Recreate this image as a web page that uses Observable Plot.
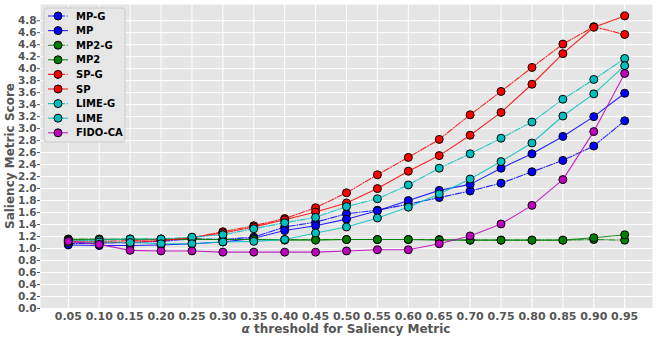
<!DOCTYPE html>
<html>
<head>
<meta charset="utf-8">
<script src="https://cdn.jsdelivr.net/npm/d3@7"></script>
<script src="https://cdn.jsdelivr.net/npm/@observablehq/plot@0.6"></script>
<style>
  html, body { margin: 0; padding: 0; background: white; }
  #chart svg { display: block; }
</style>
</head>
<body>
<div id="chart"></div>
<script>
const alphas = [0.05, 0.10, 0.15, 0.20, 0.25, 0.30, 0.35, 0.40, 0.45, 0.50, 0.55, 0.60, 0.65, 0.70, 0.75, 0.80, 0.85, 0.90, 0.95];
const yTicks = [0.0, 0.2, 0.4, 0.6, 0.8, 1.0, 1.2, 1.4, 1.6, 1.8, 2.0, 2.2, 2.4, 2.6, 2.8, 3.0, 3.2, 3.4, 3.6, 3.8, 4.0, 4.2, 4.4, 4.6, 4.8];

const seriesNames = ["MP-G", "MP", "MP2-G", "MP2", "SP-G", "SP", "LIME-G", "LIME", "FIDO-CA"];
const seriesColors = ["#0000FF", "#0000FF", "#008000", "#008000", "#FF0000", "#FF0000", "#00BFBF", "#00BFBF", "#BF00BF"];
const seriesDashed = [true, false, true, false, true, false, true, false, false];

const mpG    = [1.08, 1.09, 1.10, 1.12, 1.16, 1.15, 1.19, 1.36, 1.44, 1.58, 1.64, 1.74, 1.85, 1.96, 2.09, 2.28, 2.47, 2.71, 3.13];
const mp     = [1.06, 1.05, 1.05, 1.06, 1.08, 1.11, 1.17, 1.30, 1.38, 1.49, 1.63, 1.80, 1.97, 2.07, 2.34, 2.58, 2.87, 3.20, 3.59];
const mp2G   = [1.16, 1.16, 1.16, 1.16, 1.16, 1.15, 1.15, 1.15, 1.15, 1.15, 1.15, 1.15, 1.15, 1.14, 1.14, 1.14, 1.14, 1.15, 1.14];
const mp2    = [1.15, 1.15, 1.15, 1.15, 1.15, 1.15, 1.15, 1.14, 1.14, 1.15, 1.15, 1.15, 1.14, 1.14, 1.14, 1.14, 1.14, 1.18, 1.23];
const spG    = [1.14, 1.12, 1.13, 1.15, 1.18, 1.28, 1.38, 1.50, 1.68, 1.93, 2.23, 2.52, 2.82, 3.23, 3.62, 4.02, 4.41, 4.70, 4.57];
const sp     = [1.12, 1.10, 1.10, 1.13, 1.18, 1.26, 1.36, 1.48, 1.61, 1.76, 2.00, 2.29, 2.55, 2.89, 3.27, 3.74, 4.25, 4.69, 4.88];
const limeG  = [1.13, 1.14, 1.16, 1.16, 1.19, 1.23, 1.33, 1.43, 1.52, 1.70, 1.83, 2.06, 2.34, 2.58, 2.84, 3.11, 3.49, 3.82, 4.17];
const lime   = [1.10, 1.11, 1.10, 1.08, 1.08, 1.11, 1.12, 1.15, 1.26, 1.36, 1.51, 1.69, 1.91, 2.16, 2.45, 2.76, 3.21, 3.58, 4.05];
const fidoCA = [1.12, 1.07, 0.97, 0.96, 0.96, 0.94, 0.94, 0.94, 0.94, 0.96, 0.98, 0.98, 1.08, 1.21, 1.41, 1.72, 2.15, 2.95, 3.92];

const seriesValues = [mpG, mp, mp2G, mp2, spG, sp, limeG, lime, fidoCA];

const FONT = "DejaVu Sans, sans-serif";
const DASH = "6.4,1.6,1,1.6";

const marks = [
  Plot.frame({fill: "#E5E5E5", stroke: "none"}),
  Plot.gridX(alphas, {stroke: "white", strokeOpacity: 1, strokeWidth: 1}),
  Plot.gridY(yTicks, {stroke: "white", strokeOpacity: 1, strokeWidth: 1})
];

seriesNames.forEach((name, i) => {
  const rows = alphas.map((a, j) => ({alpha: a, value: seriesValues[i][j], series: name}));
  marks.push(Plot.line(rows, {
    x: "alpha", y: "value", stroke: seriesColors[i], strokeWidth: 1.1, strokeOpacity: 0.85,
    strokeDasharray: seriesDashed[i] ? DASH : null
  }));
  marks.push(Plot.dot(rows, {
    x: "alpha", y: "value", r: 4, fill: seriesColors[i], stroke: "black", strokeWidth: 1
  }));
});

marks.push(Plot.axisX(alphas, {
  tickSize: 0, tickPadding: 4, tickFormat: d3.format(".2f"), label: null,
  fontSize: 11, fontWeight: "bold", fill: "#555555"
}));
marks.push(Plot.axisY(yTicks, {
  tickSize: 3, tickPadding: 1, tickFormat: d3.format(".1f"), label: null,
  fontSize: 10.5, fontWeight: "bold", fill: "#555555", stroke: "#555555"
}));

const chart = Plot.plot({
  width: 656, height: 340,
  marginLeft: 40, marginRight: 4, marginTop: 4, marginBottom: 32,
  style: {fontFamily: FONT, background: "white", overflow: "visible"},
  x: {domain: [0.005, 0.995]},
  y: {domain: [0, 5.07]},
  marks
});

const svg = d3.select(chart);

// axis labels
const xl = svg.append("text")
  .attr("x", 346).attr("y", 333)
  .attr("text-anchor", "middle")
  .attr("font-family", FONT).attr("font-size", 12).attr("font-weight", "bold")
  .attr("fill", "#555555");
xl.append("tspan").attr("font-style", "italic").text("α");
xl.append("tspan").text(" threshold for Saliency Metric");

svg.append("text")
  .attr("transform", "translate(14,156) rotate(-90)")
  .attr("text-anchor", "middle")
  .attr("font-family", FONT).attr("font-size", 12).attr("font-weight", "bold")
  .attr("fill", "#555555")
  .text("Saliency Metric Score");

// legend
const lg = svg.append("g").attr("text-anchor", "start");
lg.append("rect")
  .attr("x", 44).attr("y", 8).attr("width", 81).attr("height", 134)
  .attr("rx", 3).attr("ry", 3)
  .attr("fill", "#E5E5E5").attr("fill-opacity", 0.9)
  .attr("stroke", "#CCCCCC").attr("stroke-width", 1);
seriesNames.forEach((name, i) => {
  const cy = 16 + i * 14.6;
  lg.append("line")
    .attr("x1", 48).attr("x2", 68).attr("y1", cy).attr("y2", cy)
    .attr("stroke", seriesColors[i]).attr("stroke-width", 1.1).attr("stroke-opacity", 0.85)
    .attr("stroke-dasharray", seriesDashed[i] ? DASH : null);
  lg.append("circle")
    .attr("cx", 58).attr("cy", cy).attr("r", 4)
    .attr("fill", seriesColors[i]).attr("stroke", "black").attr("stroke-width", 1);
  lg.append("text")
    .attr("x", 76).attr("y", cy).attr("dy", "0.35em")
    .attr("text-anchor", "start")
    .attr("font-family", FONT).attr("font-size", 10).attr("font-weight", "bold")
    .attr("fill", "black")
    .text(name);
});

document.getElementById("chart").appendChild(chart);
</script>
</body>
</html>
